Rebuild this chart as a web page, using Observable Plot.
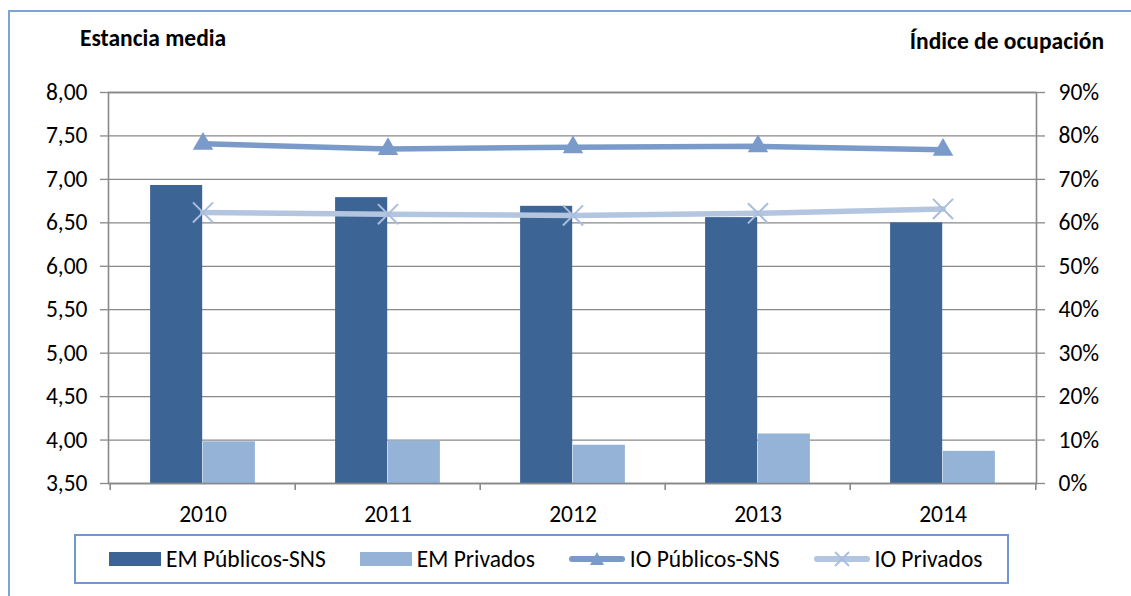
<!DOCTYPE html>
<html>
<head>
<meta charset="utf-8">
<script src="https://cdn.jsdelivr.net/npm/d3@7"></script>
<script src="https://cdn.jsdelivr.net/npm/@observablehq/plot@0.6"></script>
<style>
  html, body { margin: 0; padding: 0; background: #fff; }
  body { font-family: Carlito, Lato, "Open Sans", sans-serif; }
  #wrap { position: relative; width: 1131px; height: 596px; overflow: hidden; }
  #chart { position: absolute; left: -1px; top: 0; }
  .outer { position: absolute; left: 8px; top: 10px; width: 1200px; height: 700px;
           border-left: 2px solid #7ea3d6; border-top: 2px solid #7ea3d6; box-sizing: border-box; }
  .ttl { position: absolute; font-weight: bold; font-size: 23.5px; color: #000; line-height: 1; white-space: nowrap; }
  #legend { position: absolute; left: 74px; top: 534px; width: 935px; height: 50px; box-sizing: border-box;
            border: 2px solid #6f97d0; display: flex; align-items: center; padding-left: 33px; gap: 34px; background: #fff; }
  .item { display: flex; align-items: center; gap: 5px; font-size: 23.5px; color: #000; white-space: nowrap; }
</style>
</head>
<body>
<div id="wrap">
  <div class="outer"></div>
  <div id="chart"></div>
  <div class="ttl" id="tl" style="left:80px; top:27px;"></div>
  <div class="ttl" id="tr" style="right:27px; top:30px;"></div>
  <div id="legend"></div>
</div>
<script>
// ---- data ----
const years = ["2010", "2011", "2012", "2013", "2014"];
const emPublicos = [6.93, 6.79, 6.69, 6.56, 6.50];
const emPrivados = [3.98, 3.99, 3.94, 4.07, 3.87];
const ioPublicos = [78.2, 77.0, 77.4, 77.6, 76.8];
const ioPrivados = [62.4, 62.0, 61.7, 62.2, 63.2];
const leftTicks = [3.5, 4.0, 4.5, 5.0, 5.5, 6.0, 6.5, 7.0, 7.5, 8.0];
const rightTicks = [0, 10, 20, 30, 40, 50, 60, 70, 80, 90];
const seriesNames = ["EM Públicos-SNS", "EM Privados", "IO Públicos-SNS", "IO Privados"];
const leftTitle = "Estancia media";
const rightTitle = "Índice de ocupación";

// ---- styles ----
const C = { emPub: "#3c6494", emPriv: "#95b3d7", ioPub: "#7a9ac9", ioPriv: "#b3c5df", ioPrivMark: "#a9bedc", grid: "#898989" };
const W = 1131, H = 596, mL = 109, mR = 94, mT = 92, mB = 113;
const FS = 23.5;
const bw = (W - mL - mR) / years.length;
const barW = 52.7;

// dual axis mapping from right domain to left domain
const leftDomain = [leftTicks[0], leftTicks[leftTicks.length - 1]];
const rightDomain = [rightTicks[0], rightTicks[rightTicks.length - 1]];
const toLeft = d3.scaleLinear().domain(rightDomain).range(leftDomain);

const rows = years.map((year, i) => ({
  year, emPub: emPublicos[i], emPriv: emPrivados[i], ioPub: ioPublicos[i], ioPriv: ioPrivados[i]
}));

const fmtLeft = d => d.toFixed(2).replace(".", ",");
const fmtRight = d => Math.round(toLeft.invert(d)) + "%";

const chart = Plot.plot({
  width: W, height: H,
  marginLeft: mL, marginRight: mR, marginTop: mT, marginBottom: mB,
  style: { fontFamily: "Carlito, Lato, 'Open Sans', sans-serif", fontSize: FS + "px", color: "#000", background: "transparent", overflow: "visible" },
  x: { type: "band", domain: years, padding: 0, axis: null, label: null },
  y: { domain: leftDomain, axis: null, label: null },
  marks: [
    Plot.ruleY(leftTicks, { stroke: C.grid, strokeWidth: 1.3 }),
    Plot.barY(rows, { x: "year", y1: leftDomain[0], y2: "emPub", fill: C.emPub, insetLeft: bw / 2 - barW, insetRight: bw / 2 }),
    Plot.barY(rows, { x: "year", y1: leftDomain[0], y2: "emPriv", fill: C.emPriv, insetLeft: bw / 2, insetRight: bw / 2 - barW }),
    Plot.frame({ stroke: C.grid, strokeWidth: 1.6 }),
    Plot.axisY({ anchor: "left", ticks: leftTicks, tickSize: 8, tickPadding: 13, tickFormat: fmtLeft, stroke: C.grid, strokeWidth: 1.3, color: "#000", fontSize: FS, label: null }),
    Plot.axisY({ anchor: "right", ticks: rightTicks.map(toLeft), tickSize: 8, tickPadding: 14, tickFormat: fmtRight, stroke: C.grid, strokeWidth: 1.3, color: "#000", fontSize: FS, label: null }),
    Plot.axisX({ tickSize: 0, tickPadding: 21.5, color: "#000", fontSize: FS, label: null }),
    Plot.axisX({ tickSize: 7, tickFormat: () => "", dx: -bw / 2, stroke: C.grid, strokeWidth: 1.6, label: null }),
    Plot.axisX({ ticks: [years[years.length - 1]], tickSize: 7, tickFormat: () => "", dx: bw / 2, stroke: C.grid, strokeWidth: 1.6, label: null }),
    Plot.line(rows, { x: "year", y: d => toLeft(d.ioPriv), stroke: C.ioPriv, strokeWidth: 5.5 }),
    Plot.dot(rows, { x: "year", y: d => toLeft(d.ioPriv), symbol: "times", r: 9.2, stroke: C.ioPrivMark, strokeWidth: 2 }),
    Plot.line(rows, { x: "year", y: d => toLeft(d.ioPub), stroke: C.ioPub, strokeWidth: 5.5 }),
    Plot.dot(rows, { x: "year", y: d => toLeft(d.ioPub), symbol: "triangle", r: 7.6, fill: C.ioPub, stroke: "none" })
  ]
});
document.getElementById("chart").append(chart);
document.getElementById("tl").textContent = leftTitle;
document.getElementById("tr").textContent = rightTitle;

// ---- legend ----
const kinds = [
  { type: "bar", color: C.emPub },
  { type: "bar", color: C.emPriv },
  { type: "tri", color: C.ioPub },
  { type: "times", color: C.ioPriv, mark: C.ioPrivMark }
];
const legend = document.getElementById("legend");
seriesNames.forEach((name, i) => {
  const k = kinds[i];
  const item = document.createElement("div");
  item.className = "item";
  let sw;
  if (k.type === "bar") {
    sw = `<svg width="52" height="14"><rect width="52" height="14" fill="${k.color}"/></svg>`;
  } else if (k.type === "tri") {
    sw = `<svg width="56" height="20"><line x1="3" y1="10" x2="53" y2="10" stroke="${k.color}" stroke-width="6" stroke-linecap="round"/><path d="M28,3 L35,16 L21,16 Z" fill="${k.color}"/></svg>`;
  } else {
    sw = `<svg width="56" height="20"><line x1="3" y1="10" x2="53" y2="10" stroke="${k.color}" stroke-width="6" stroke-linecap="round"/><path d="M21,3 L35,17 M35,3 L21,17" stroke="${k.mark}" stroke-width="1.8"/></svg>`;
  }
  item.innerHTML = sw + `<span>${name}</span>`;
  legend.append(item);
});
</script>
</body>
</html>
